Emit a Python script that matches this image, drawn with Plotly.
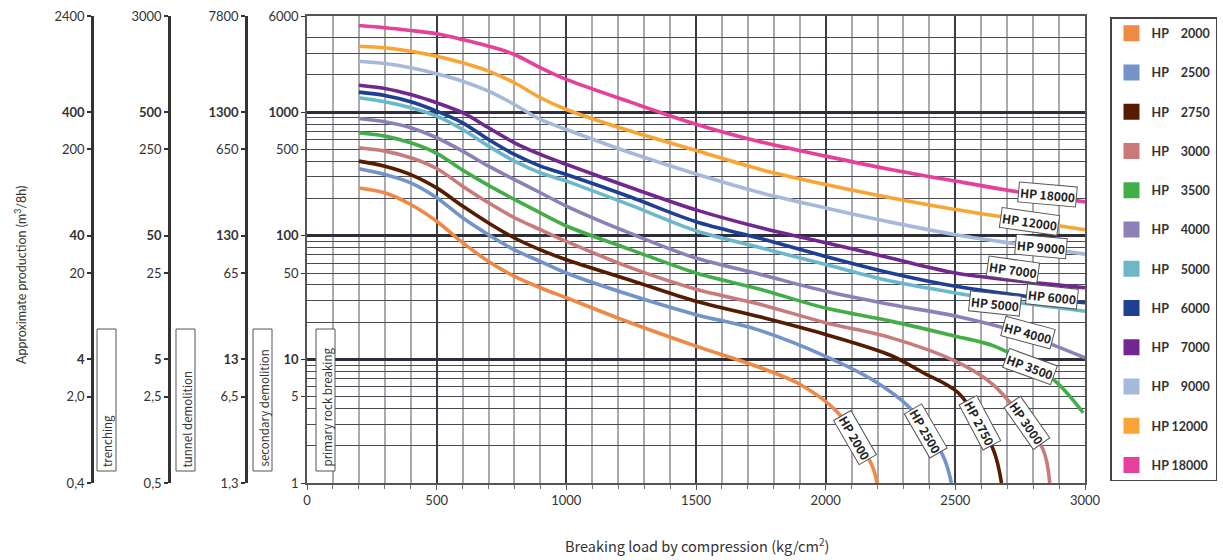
import numpy as np
import plotly.graph_objects as go

# ---------------- data ----------------
series_names = ["HP 2000", "HP 2500", "HP 2750", "HP 3000", "HP 3500", "HP 4000",
                "HP 5000", "HP 6000", "HP 7000", "HP 9000", "HP 12000", "HP 18000"]
NB = "\u00a0"
legend_labels = ["HP" + NB * 4 + "2000", "HP" + NB * 4 + "2500", "HP" + NB * 4 + "2750",
                 "HP" + NB * 4 + "3000", "HP" + NB * 4 + "3500", "HP" + NB * 4 + "4000",
                 "HP" + NB * 4 + "5000", "HP" + NB * 4 + "6000", "HP" + NB * 4 + "7000",
                 "HP" + NB * 4 + "9000", "HP 12000", "HP 18000"]

x_main = [200, 300, 400, 500, 600, 700, 800, 900, 1000, 1250, 1500, 1750, 2000, 2250, 2500, 2750, 3000]
y_hp18000 = [5030, 4820, 4580, 4310, 3870, 3420, 2930, 2290, 1840, 1200, 800, 575, 441, 344, 277, 225, 188]
y_hp12000 = [3420, 3320, 3117, 2840, 2510, 2150, 1730, 1309, 1052, 700, 490, 344, 260, 203, 163, 135, 112]
y_hp9000 = [2586, 2478, 2287, 2046, 1782, 1479, 1154, 873, 724, 467, 316, 223, 168, 129, 102, 85, 71]
y_hp7000 = [1653, 1556, 1390, 1192, 990, 748, 565, 455, 378, 245, 162, 116, 88, 66, 50, 43, 38]
y_hp6000 = [1452, 1365, 1214, 1019, 820, 601, 455, 366, 313, 205, 130, 95, 68, 50, 39, 32.9, 28.7]
y_hp5000 = [1309, 1214, 1086, 929, 724, 531, 402, 323, 277, 176, 110, 80, 58.6, 43, 34.5, 28.7, 24.5]
y_hp4000 = [889, 836, 748, 621, 484, 366, 285, 223, 174, 104, 66, 48.6, 35.6, 27.8, 22.4, 16.4, 10.3]

x_hp3500 = [200, 300, 400, 500, 600, 700, 800, 900, 1000, 1250, 1500, 1750, 2000, 2250, 2500, 2650, 2877, 2993]
y_hp3500 = [681, 640, 565, 465, 340, 256, 197, 153, 120, 77, 50, 36.8, 26, 20.4, 15.4, 12.8, 6.9, 3.7]

x_hp3000 = [200, 300, 400, 500, 600, 700, 800, 900, 1000, 1250, 1500, 1750, 2000, 2250, 2500, 2620, 2684, 2838, 2864]
y_hp3000 = [515, 484, 428, 350, 252, 185, 140, 112, 90, 55, 37, 27.8, 19.8, 15, 9.7, 6.9, 5.2, 1.87, 1]

x_hp2750 = [200, 300, 400, 500, 600, 700, 800, 900, 1000, 1250, 1500, 1750, 2000, 2250, 2376, 2511, 2646, 2678]
y_hp2750 = [402, 366, 313, 244, 174, 127, 96, 77, 64, 43.5, 29.5, 22, 15.9, 10.8, 7.8, 5.37, 1.87, 1]

x_hp2500 = [200, 300, 400, 500, 600, 700, 800, 900, 1000, 1250, 1500, 1733, 2000, 2177, 2324, 2453, 2485]
y_hp2500 = [348, 313, 268, 203, 140, 102, 77, 62, 50, 33, 23, 17.5, 10.6, 6.9, 4.06, 1.65, 1]

x_hp2000 = [200, 300, 400, 500, 600, 700, 800, 900, 1000, 1250, 1500, 1733, 1900, 2042, 2177, 2198]
y_hp2000 = [244, 223, 179, 131, 88, 62, 47, 38, 31.5, 19.7, 12.8, 8.8, 6.3, 3.8, 1.41, 1]

main_ticks = [1, 5, 10, 50, 100, 500, 1000, 6000]
main_labels = ["1", "5", "<b>10</b>", "50", "<b>100</b>", "500", "<b>1000</b>", "6000"]
trench_ticks = [0.4, 2, 4, 20, 40, 200, 400, 2400]
trench_labels = ["0,4", "2,0", "<b>4</b>", "20", "<b>40</b>", "200", "<b>400</b>", "2400"]
tunnel_ticks = [0.5, 2.5, 5, 25, 50, 250, 500, 3000]
tunnel_labels = ["0,5", "2,5", "<b>5</b>", "25", "<b>50</b>", "250", "<b>500</b>", "3000"]
second_ticks = [1.3, 6.5, 13, 65, 130, 650, 1300, 7800]
second_labels = ["1,3", "6,5", "<b>13</b>", "65", "<b>130</b>", "650", "<b>1300</b>", "7800"]
x_ticks = [0, 500, 1000, 1500, 2000, 2500, 3000]
zone_labels = ["trenching", "tunnel demolition", "secondary demolition", "primary rock breaking"]

# ---------------- styling ----------------
colors = ["#EE8A45", "#7394C9", "#561C00", "#C97B7B", "#43AE47", "#8E80B6",
          "#6BB8CB", "#1F3F95", "#72278E", "#A6B9DA", "#F8A535", "#E5409A"]
W, H = 1223, 560
PX_L, PX_R, PX_T, PX_B = 307, 1085, 16, 483
NARROW = "Noto Sans CJK SC, DejaVu Sans Condensed, sans-serif"
REG = "Lato, Open Sans, sans-serif"
INK = "#333333"


def px_x(p):
    return p / W


def px_y(p):
    return (PX_B - p) / (PX_B - PX_T)


xs_all = [x_hp2000, x_hp2500, x_hp2750, x_hp3000, x_hp3500, x_main, x_main,
          x_main, x_main, x_main, x_main, x_main]
ys_all = [y_hp2000, y_hp2500, y_hp2750, y_hp3000, y_hp3500, y_hp4000, y_hp5000,
          y_hp6000, y_hp7000, y_hp9000, y_hp12000, y_hp18000]

fig = go.Figure()
for name, xs, ys, col in zip(series_names, xs_all, ys_all, colors):
    fig.add_trace(go.Scatter(x=xs, y=ys, mode="lines", name=name, legendgroup=name,
                             showlegend=False,
                             line=dict(color=col, width=3.6, shape="spline", smoothing=0.9)))
for name, lab, col in zip(series_names, legend_labels, colors):
    fig.add_trace(go.Scatter(x=[None], y=[None], mode="markers", name=lab, legendgroup=name,
                             marker=dict(symbol="square", size=16, color=col)))

minor_vals = []
for dec in [1, 10, 100]:
    minor_vals += [d * dec for d in range(2, 10)]
minor_vals += [2000, 3000, 4000]

ymax = np.log10(6000)
fig.update_layout(
    width=W, height=H,
    margin=dict(l=0, r=0, t=PX_T, b=H - PX_B, autoexpand=False),
    paper_bgcolor="white", plot_bgcolor="white",
    showlegend=True,
    legend=dict(x=px_x(1110), y=px_y(17), xanchor="left", yanchor="top",
                bordercolor="#444", borderwidth=1.5, bgcolor="white",
                tracegroupgap=20, itemwidth=30,
                font=dict(family=REG, size=12.5, color=INK, weight="bold")),
    xaxis=dict(domain=[PX_L / W, PX_R / W], range=[0, 3000], tickvals=x_ticks,
               showgrid=True, gridcolor="#3a3a44", gridwidth=2,
               ticks="outside", ticklen=5, tickcolor="#555",
               showline=True, mirror=True, linecolor="#555", linewidth=1.5,
               tickfont=dict(family=REG, size=13, color=INK),
               minor=dict(dtick=100, showgrid=True, gridcolor="#a9a9ae", gridwidth=1.8,
                          ticks="outside", ticklen=4, tickcolor="#777"),
               zeroline=False),
    yaxis=dict(type="log", range=[0, ymax], tickvals=main_ticks, ticktext=main_labels,
               showgrid=False, ticks="outside", ticklen=4, tickcolor=INK,
               showline=True, mirror=True, linecolor="#555", linewidth=1.5,
               tickfont=dict(family=REG, size=13, color=INK)),
    yaxis5=dict(type="log", range=[0, ymax], overlaying="y", anchor="x", side="left",
                tickvals=[10, 100, 1000], showticklabels=False, ticks="",
                showgrid=True, gridcolor="#2e2e38", gridwidth=2.5,
                minor=dict(tickvals=minor_vals, showgrid=True, gridcolor="#4a4a55", gridwidth=1)),
)

for ax, ticks, labels, xp in [("yaxis2", trench_ticks, trench_labels, 92),
                              ("yaxis3", tunnel_ticks, tunnel_labels, 169),
                              ("yaxis4", second_ticks, second_labels, 246)]:
    fig.update_layout(**{ax: dict(type="log", overlaying="y", anchor="free", side="left",
                                  position=px_x(xp),
                                  range=[np.log10(ticks[0]), np.log10(ticks[-1])],
                                  tickvals=ticks, ticktext=labels, showgrid=False,
                                  showline=True, linecolor=INK, linewidth=2.5,
                                  ticks="outside", ticklen=4, tickcolor=INK, tickwidth=1.5,
                                  tickfont=dict(family=REG, size=13, color=INK))})

# invisible traces so the extra axes render
for ax, ticks in [("y2", trench_ticks), ("y3", tunnel_ticks), ("y4", second_ticks), ("y5", main_ticks)]:
    fig.add_trace(go.Scatter(x=[None], y=[None], yaxis=ax, showlegend=False, hoverinfo="skip"))

# zone boxes at the left
for lab, x0 in zip(zone_labels, [97, 176, 253, 316]):
    fig.add_shape(type="rect", xref="paper", yref="paper",
                  x0=px_x(x0), x1=px_x(x0 + 19), y0=px_y(471), y1=px_y(329),
                  line=dict(color="#555", width=1), fillcolor="white", layer="above")
    fig.add_annotation(xref="paper", yref="paper", x=px_x(x0 + 10), y=px_y(469),
                       text=lab, textangle=-90, showarrow=False,
                       xanchor="center", yanchor="bottom",
                       font=dict(family=NARROW, size=11.5, color=INK))

# curve labels (position in data coords, angle)
curve_label_pos = [("HP 2000", 2113, 0.368, 60), ("HP 2500", 2385, 0.425, 60),
                   ("HP 2750", 2594, 0.489, 62), ("HP 3000", 2775, 0.489, 55),
                   ("HP 3500", 2787, 0.943, 20), ("HP 4000", 2779, 1.218, 15),
                   ("HP 5000", 2652, 1.456, 6), ("HP 6000", 2874, 1.509, 6),
                   ("HP 7000", 2722, 1.731, 8), ("HP 9000", 2830, 1.913, 5),
                   ("HP 12000", 2787, 2.116, 8), ("HP 18000", 2857, 2.334, 5)]
for lab, xv, ylog, ang in curve_label_pos:
    fig.add_annotation(x=xv, y=ylog, xref="x", yref="y", text="<b>" + lab + "</b>",
                       showarrow=False, textangle=ang, bgcolor="white",
                       bordercolor="#555", borderwidth=1, borderpad=1,
                       font=dict(family=NARROW, size=12, color="#222"))

fig.add_annotation(xref="paper", yref="paper", x=px_x(20), y=px_y(275),
                   xanchor="center", yanchor="middle",
                   text="Approximate production (m<sup>3</sup>/8h)", textangle=-90,
                   showarrow=False, font=dict(family=REG, size=12.5, color=INK))
fig.add_annotation(xref="paper", yref="paper", x=px_x(697), y=px_y(545),
                   xanchor="center", yanchor="middle",
                   text="Breaking load by compression (kg/cm<sup>2</sup>)",
                   showarrow=False, font=dict(family=NARROW, size=14.5, color=INK))

fig.write_html("out.html", config={"displayModeBar": False},
               post_script="document.body.style.margin='0px';")
